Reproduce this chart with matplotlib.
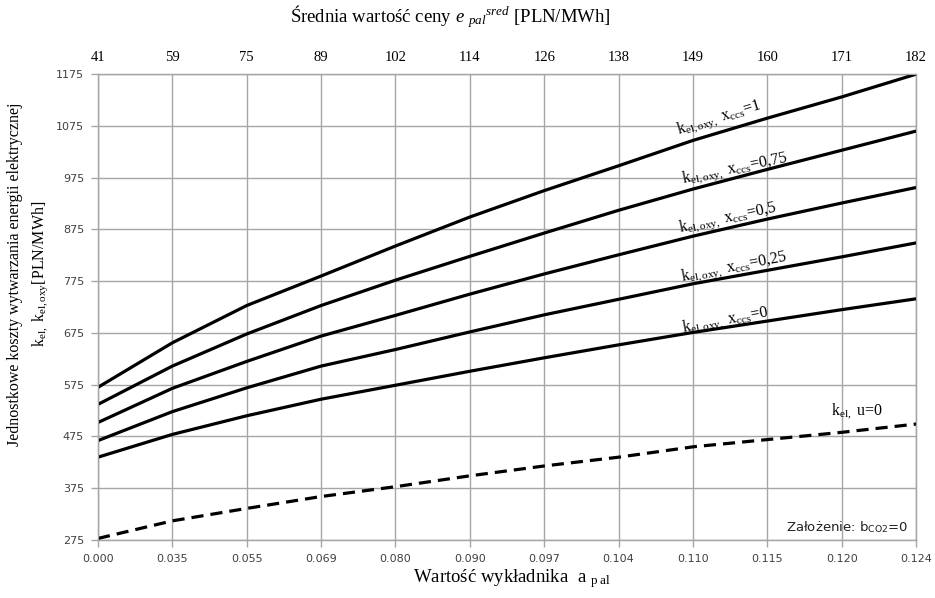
import matplotlib
matplotlib.use("Agg")
import matplotlib.pyplot as plt
import numpy as np

plt.rcParams['mathtext.fontset'] = 'custom'
plt.rcParams['mathtext.rm'] = 'Liberation Serif'
plt.rcParams['mathtext.it'] = 'Liberation Serif:italic'
plt.rcParams['mathtext.sf'] = 'DejaVu Sans'

# exponent a_pal (bottom axis) and mean fuel price (top axis)
a_pal = ["0.000", "0.035", "0.055", "0.069", "0.080", "0.090",
         "0.097", "0.104", "0.110", "0.115", "0.120", "0.124"]
e_pal = ["41", "59", "75", "89", "102", "114", "126", "138", "149", "160", "171", "182"]

k_oxy_1 = [570, 656, 728, 785, 843, 899, 950, 998, 1047, 1090, 1131, 1175]
k_oxy_075 = [537, 611, 673, 728, 777, 823, 868, 912, 953, 991, 1028, 1065]
k_oxy_05 = [502, 568, 620, 669, 709, 750, 789, 826, 862, 895, 926, 956]
k_oxy_025 = [467, 523, 569, 611, 643, 677, 710, 740, 770, 796, 822, 849]
k_oxy_0 = [435, 479, 515, 547, 574, 601, 627, 652, 676, 698, 720, 741]
k_el_u0 = [278, 312, 336, 359, 378, 399, 418, 435, 455, 469, 483, 499]

y_ticks = list(range(275, 1176, 100))

serif = 'Liberation Serif'
grid_c = '#a6a6a6'

fig = plt.figure(figsize=(9.35, 5.98), dpi=100)
ax = fig.add_axes([0.1048, 0.097, 0.875, 0.779])
x = np.arange(len(a_pal))

for vals in [k_oxy_1, k_oxy_075, k_oxy_05, k_oxy_025, k_oxy_0]:
    ax.plot(x, vals, color='black', lw=2.3, solid_capstyle='butt', zorder=3)
ax.plot(x, k_el_u0, color='black', lw=2.3, dashes=(3.8, 2.2), zorder=3)

ax.set_xlim(0, len(a_pal) - 1)
ax.set_ylim(275, 1175)
ax.set_xticks(x)
ax.set_xticklabels(a_pal, fontsize=8, color='#404040')
ax.set_yticks(y_ticks)
ax.set_yticklabels([str(v) for v in y_ticks], fontsize=8, color='#404040')
ax.tick_params(axis='both', length=5, width=1, color=grid_c, pad=5)
ax.grid(True, color=grid_c, lw=1)
for s in ax.spines.values():
    s.set_color(grid_c)
    s.set_linewidth(1)

top = ax.twiny()
top.set_xlim(ax.get_xlim())
top.set_xticks(x)
top.set_xticklabels(e_pal, fontsize=10.5, family=serif)
top.tick_params(axis='x', length=0, pad=7)
for s in top.spines.values():
    s.set_color(grid_c)

# curve labels
labels = [
    (8.35, 1090, r"k$_{\rm el,oxy,}$ x$_{\rm ccs}$=1", 17),
    (8.56, 992, r"k$_{\rm el,oxy,}$ x$_{\rm ccs}$=0,75", 11.5),
    (8.47, 897, r"k$_{\rm el,oxy,}$ x$_{\rm ccs}$=0,5", 12),
    (8.55, 802, r"k$_{\rm el,oxy,}$ x$_{\rm ccs}$=0,25", 11),
    (8.43, 700, r"k$_{\rm el,oxy,}$ x$_{\rm ccs}$=0", 10.5),
]
for lx, ly, txt, rot in labels:
    ax.text(lx, ly, txt, family=serif, fontsize=11.5, rotation=rot,
            ha='center', va='center', rotation_mode='anchor', zorder=4)
ax.text(10.2, 524, r"k$_{\rm el,}$ u=0", family=serif, fontsize=11.5,
        ha='center', va='center')
ax.text(10.9, 299, r"Założenie: b$_{\mathsf{CO2}}$=0", fontsize=9.5,
        color='#202020', ha='right', va='center')

fig.text(0.482, 0.972, r"Średnia wartość ceny $\it{e}$ $_{\it{pal}}$$^{\it{sred}}$ [PLN/MWh]",
         family=serif, fontsize=13.5, ha='center', va='center')
fig.text(0.548, 0.033, r"Wartość wykładnika  a $_{\rm p\ al}$", family=serif,
         fontsize=13.5, ha='center', va='center')
fig.text(0.016, 0.542, "Jednostkowe koszty wytwarzania energii elektrycznej",
         family=serif, fontsize=11.5, rotation=90, ha='center', va='center')
fig.text(0.043, 0.542, r"k$_{\rm el,}$ k$_{\rm el,oxy}$[PLN/MWh]",
         family=serif, fontsize=11.5, rotation=90, ha='center', va='center')

fig.savefig("out.png", dpi=100)
